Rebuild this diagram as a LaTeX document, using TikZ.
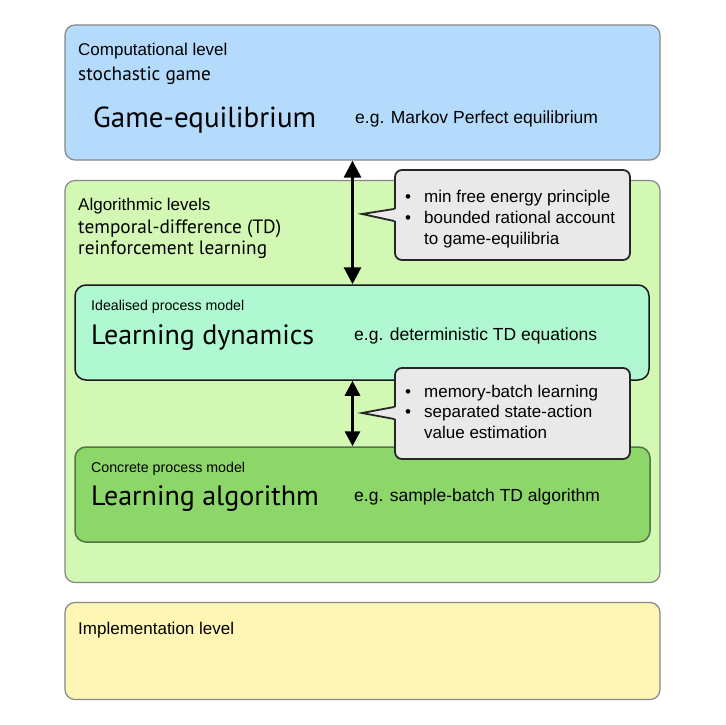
\documentclass[tikz,border=0pt]{standalone}
\usepackage{fontspec}
\setmainfont{Liberation Sans}
\newfontfamily\hum{PT Sans}
\usetikzlibrary{arrows.meta}
\definecolor{cblue}{RGB}{180,219,252}
\definecolor{cgreen}{RGB}{210,248,180}
\definecolor{cteal}{RGB}{176,248,210}
\definecolor{cdark}{RGB}{141,214,106}
\definecolor{cyellow}{RGB}{255,246,182}
\definecolor{cgray}{RGB}{233,233,233}
\definecolor{cborder}{RGB}{135,135,135}
\definecolor{cdarkborder}{RGB}{85,115,70}
\begin{document}
\begin{tikzpicture}[x=1pt,y=-1pt,
  level/.style={draw=cborder,line width=1.2pt,rounded corners=10pt,inner sep=0pt},
  inner/.style={line width=1.5pt,rounded corners=11pt,inner sep=0pt},
  callbox/.style={draw=black!85,fill=cgray,line width=1.8pt,rounded corners=7pt,inner sep=0pt},
  lbl/.style={anchor=base west,inner sep=0pt,font=\fontsize{17}{20}\selectfont},
  eg/.style={anchor=base west,inner sep=0pt,font=\fontsize{17.5}{21}\selectfont},
  small/.style={anchor=base west,inner sep=0pt,font=\fontsize{14.2}{17}\selectfont},
  hsub/.style={anchor=base west,inner sep=0pt,font=\hum\fontsize{19.3}{23}\selectfont},
  title/.style={anchor=base west,inner sep=0pt,font=\hum\fontsize{28}{32}\selectfont},
  bul/.style={anchor=base west,inner sep=0pt,font=\fontsize{17}{20}\selectfont},
  dbl/.style={line width=3pt,{Triangle[length=17pt,width=17pt]}-{Triangle[length=17pt,width=17pt]}},
  dbltwo/.style={line width=3pt,{Triangle[length=15pt,width=15pt]}-{Triangle[length=15pt,width=15pt]}}
]
\useasboundingbox (0,0) rectangle (725,725);
\fill[white] (0,0) rectangle (725,725);

% level boxes
\node[level,fill=cblue,minimum width=595pt,minimum height=135pt] (comp) at (362.5,92.5) {};
\node[level,fill=cgreen,minimum width=595pt,minimum height=402pt] (algo) at (362.5,381.5) {};
\node[level,fill=cyellow,minimum width=595pt,minimum height=97pt] (impl) at (362.5,651) {};
\node[inner,draw=black!90,fill=cteal,minimum width=574pt,minimum height=95pt] (dyn) at (362,332.5) {};
\node[inner,draw=cdarkborder,fill=cdark,minimum width=575pt,minimum height=95pt] (alg) at (362.5,494.5) {};

% texts: computational
\node[lbl] (t1) at (78,56) {Computational level};
\node[hsub] (t2) at (78,80) {stochastic game};
\node[title,font=\hum\fontsize{29}{33}\selectfont] (t3) at (93,127) {Game-equilibrium};
\node[eg] (t4) at (355,123) {e.g. Markov Perfect equilibrium};

% algorithmic
\node[lbl] (a1) at (78,210) {Algorithmic levels};
\node[hsub] (a2) at (78,233) {temporal-difference (TD)};
\node[hsub] (a3) at (78,254) {reinforcement learning};

\node[small] (d1) at (91,310) {Idealised process model};
\node[title] (d2) at (91,344) {Learning dynamics};
\node[eg] (d3) at (354,340) {e.g. deterministic TD equations};

\node[small] (g1) at (91,472) {Concrete process model};
\node[title] (g2) at (91,505) {Learning algorithm};
\node[eg] (g3) at (354,501) {e.g. sample-batch TD algorithm};

\node[lbl] (i1) at (78,634) {Implementation level};

% arrows
\coordinate (ax) at (352.5,0);
\draw[dbl] (ax |- comp.south) -- (ax |- dyn.north);
\draw[dbltwo] (ax |- dyn.south) -- (ax |- alg.north);

% callout 1
\node[callbox,minimum width=235pt,minimum height=90pt] (c1) at (512.5,215) {};
\coordinate (c1tip) at (362,214);
\fill[cgray] (c1tip) -- (397,209) -- (397,221) -- cycle;
\draw[black!85,line width=1.8pt,line join=miter] (c1.west |- 0,209) -- (c1tip) -- (c1.west |- 0,221);
\node[bul] (b11) at (405,202) {\textbullet};
\node[bul] (b12) at (424,202) {min free energy principle};
\node[bul] (b21) at (405,223) {\textbullet};
\node[bul] (b22) at (424,223) {bounded rational account};
\node[bul] (b23) at (424,244) {to game-equilibria};

% callout 2
\node[callbox,minimum width=235pt,minimum height=91pt] (c2) at (512.5,413.5) {};
\coordinate (c2tip) at (362,413);
\fill[cgray] (c2tip) -- (397,407) -- (397,419) -- cycle;
\draw[black!85,line width=1.8pt,line join=miter] (c2.west |- 0,407) -- (c2tip) -- (c2.west |- 0,419);
\node[bul] (e11) at (405,397) {\textbullet};
\node[bul] (e12) at (424,397) {memory-batch learning};
\node[bul] (e21) at (405,417) {\textbullet};
\node[bul] (e22) at (424,417) {separated state-action};
\node[bul] (e23) at (424,438) {value estimation};
\end{tikzpicture}
\end{document}
